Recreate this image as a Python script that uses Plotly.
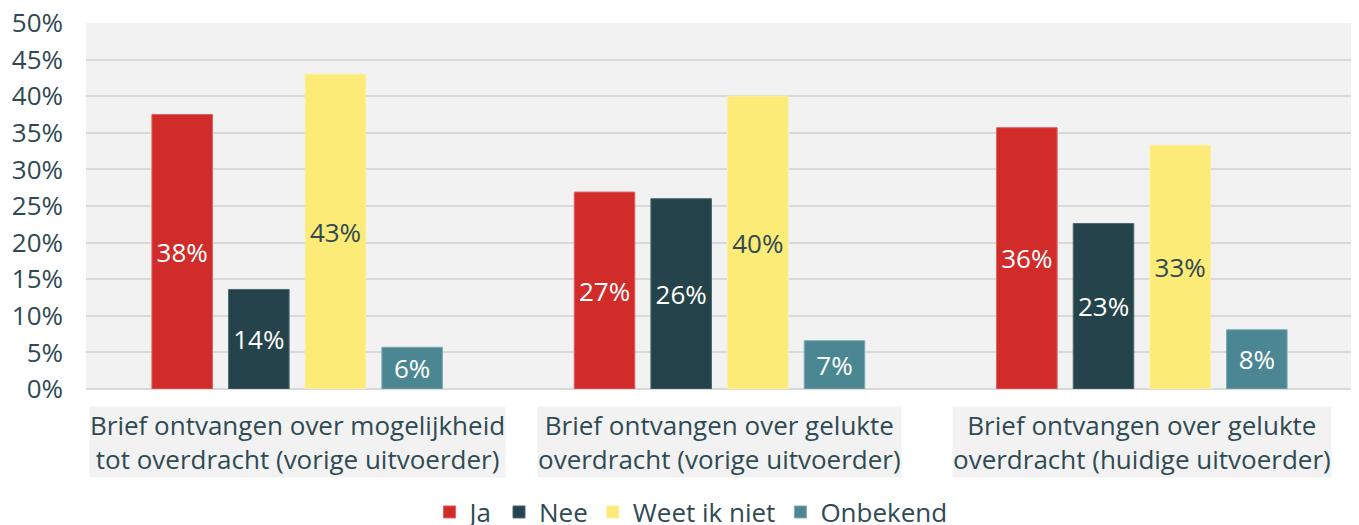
import plotly.graph_objects as go

categories = [
    "Brief ontvangen over mogelijkheid<br>tot overdracht (vorige uitvoerder)",
    "Brief ontvangen over gelukte<br>overdracht (vorige uitvoerder)",
    "Brief ontvangen over gelukte<br>overdracht (huidige uitvoerder)",
]
series_names = ["Ja", "Nee", "Weet ik niet", "Onbekend"]
ja = [37.5, 26.9, 35.7]
nee = [13.6, 26.0, 22.6]
weet_ik_niet = [43.0, 40.0, 33.3]
onbekend = [5.7, 6.6, 8.1]
y_ticks = [0, 5, 10, 15, 20, 25, 30, 35, 40, 45, 50]

series_values = [ja, nee, weet_ik_niet, onbekend]
colors = ["#D12B2A", "#25434A", "#FDEB78", "#4B8793"]
outline = ["#E06060", "#4E6870", "#FDF0A0", "#7FAAB3"]
text_colors = ["#FFFFFF", "#FFFFFF", "#2F4A52", "#FFFFFF"]

FONT = "Open Sans"
TXT = "#2F4A52"
FS = 26

fig = go.Figure()
for name, vals, c, oc, tc in zip(series_names, series_values, colors, outline, text_colors):
    fig.add_trace(go.Bar(
        name=name, x=categories, y=vals,
        marker=dict(color=c, line=dict(color=oc, width=1)),
        texttemplate="%{y:.0f}%",
        textposition="inside",
        insidetextanchor="middle",
        textangle=0,
        constraintext="none",
        textfont=dict(family=FONT, size=FS, color=tc),
        hoverinfo="skip",
    ))

for cat in categories:
    fig.add_annotation(
        x=cat, y=0, xref="x", yref="paper",
        yanchor="top", xanchor="center", yshift=-17,
        text=cat, showarrow=False, align="center",
        font=dict(family=FONT, size=FS, color=TXT),
        bgcolor="#F2F2F2", borderpad=0,
    )

# the page body adds an 8px offset, so the figure is sized to compensate
fig.update_layout(
    width=1351, height=517,
    margin=dict(l=78, r=6, t=15, b=136, autoexpand=False),
    paper_bgcolor="white",
    plot_bgcolor="#F2F2F2",
    barmode="group",
    bargap=0.274,
    bargroupgap=0.21,
    font=dict(family=FONT, size=FS, color=TXT),
    showlegend=True,
    legend=dict(
        orientation="h",
        xref="container", yref="container",
        x=0.5056, xanchor="center",
        y=0.025, yanchor="middle",
        font=dict(family=FONT, size=FS, color=TXT),
        itemwidth=30,
        traceorder="normal",
    ),
)
fig.update_xaxes(showticklabels=False, showgrid=False, showline=False, zeroline=False,
                 automargin=False)
fig.update_yaxes(
    range=[0, 50],
    tickvals=y_ticks,
    ticktext=[f"{v}%" for v in y_ticks],
    showgrid=True, gridcolor="#D9D9D9", gridwidth=1.5,
    zeroline=True, zerolinecolor="#D9D9D9", zerolinewidth=1.5,
    showline=False, ticks="",
    ticklabelstandoff=22,
    ticklabeloverflow="allow",
    automargin=False,
    tickfont=dict(family=FONT, size=FS, color=TXT),
)

fig.write_html("out.html")
